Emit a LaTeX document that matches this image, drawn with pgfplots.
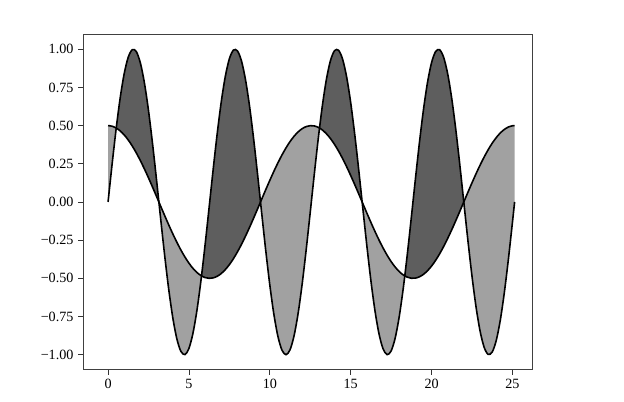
\documentclass[border=0pt]{standalone}
\usepackage{fontspec}
\setmainfont{Liberation Serif}
\usepackage{pgfplots}
\usepackage{pgfplotstable}
\pgfplotsset{compat=1.18}
\usepgfplotslibrary{fillbetween}
\definecolor{darkfill}{gray}{0.37}
\definecolor{lightfill}{gray}{0.63}
\pgfplotstableread{
x s c
0 0 0.5
0.25 0.2474 0.4961
0.5 0.4794 0.4845
0.75 0.6816 0.4653
1 0.8415 0.4388
1.25 0.9490 0.4055
1.5 0.9975 0.3658
1.75 0.9840 0.3205
2 0.9093 0.2702
2.25 0.7781 0.2156
2.5 0.5985 0.1577
2.75 0.3817 0.0973
3 0.1411 0.0354
3.25 -0.1082 -0.0271
3.5 -0.3508 -0.0891
3.75 -0.5716 -0.1498
4 -0.7568 -0.2081
4.25 -0.8950 -0.2631
4.5 -0.9775 -0.3141
4.75 -0.9993 -0.3601
5 -0.9589 -0.4006
5.25 -0.8589 -0.4349
5.5 -0.7055 -0.4622
5.75 -0.5083 -0.4823
6 -0.2794 -0.4950
6.25 -0.0332 -0.4999
6.5 0.2151 -0.4971
6.75 0.4500 -0.4864
7 0.6570 -0.4682
7.25 0.8231 -0.4427
7.5 0.9380 -0.4103
7.75 0.9946 -0.3714
8 0.9894 -0.3268
8.25 0.9228 -0.2771
8.5 0.7985 -0.2230
8.75 0.6247 -0.1655
9 0.4121 -0.1054
9.25 0.1739 -0.0436
9.5 -0.0752 0.0188
9.75 -0.3195 0.0809
10 -0.5440 0.1418
10.25 -0.7347 0.2005
10.5 -0.8797 0.2560
10.75 -0.9700 0.3076
11 -1.0000 0.3543
11.25 -0.9678 0.3955
11.5 -0.8755 0.4306
11.75 -0.7287 0.4589
12 -0.5366 0.4801
12.25 -0.3108 0.4938
12.5 -0.0663 0.4997
12.75 0.1826 0.4979
13 0.4202 0.4883
13.25 0.6317 0.4711
13.5 0.8038 0.4465
13.75 0.9259 0.4150
14 0.9906 0.3770
14.25 0.9936 0.3331
14.5 0.9349 0.2840
14.75 0.8180 0.2304
15 0.6503 0.1733
15.25 0.4422 0.1135
15.5 0.2065 0.0519
15.75 -0.0420 -0.0105
16 -0.2879 -0.0728
16.25 -0.5159 -0.1339
16.5 -0.7118 -0.1929
16.75 -0.8635 -0.2489
17 -0.9614 -0.3010
17.25 -0.9996 -0.3484
17.5 -0.9756 -0.3904
17.75 -0.8910 -0.4263
18 -0.7510 -0.4556
18.25 -0.5643 -0.4777
18.5 -0.3425 -0.4924
18.75 -0.0994 -0.4994
19 0.1498 -0.4986
19.25 0.3898 -0.4900
19.5 0.6055 -0.4738
19.75 0.7836 -0.4502
20 0.9129 -0.4195
20.25 0.9855 -0.3823
20.5 0.9968 -0.3392
20.75 0.9462 -0.2908
21 0.8367 -0.2378
21.25 0.6752 -0.1811
21.5 0.4717 -0.1216
21.75 0.2389 -0.0601
22 -0.0089 0.0022
22.25 -0.2559 0.0645
22.5 -0.4871 0.1258
22.75 -0.6881 0.1852
23 -0.8462 0.2416
23.25 -0.9517 0.2943
23.5 -0.9981 0.3424
23.75 -0.9824 0.3852
24 -0.9057 0.4219
24.25 -0.7726 0.4521
24.5 -0.5914 0.4752
24.75 -0.3735 0.4909
25 -0.1324 0.4989
25.1327 0 0.5
}\datatable
\begin{document}
\begin{tikzpicture}
\begin{axis}[
  scale only axis,
  width=337.3pt, height=252pt,
  xmin=-1.55, xmax=26.25,
  ymin=-1.1, ymax=1.1,
  xtick={0,5,10,15,20,25},
  ytick={-1,-0.75,-0.5,-0.25,0,0.25,0.5,0.75,1},
  yticklabels={−1.00,−0.75,−0.50,−0.25,0.00,0.25,0.50,0.75,1.00},
  /pgf/number format/assume math mode=true,
  tick label style={font=\fontsize{10.6}{12}\selectfont},
  tick align=outside,
  tick pos=left,
  major tick length=3.6pt,
  every tick/.style={black!80, line width=0.6pt},
  axis line style={black!75, line width=0.7pt},
  clip=true,
]
\addplot[name path=A, draw=none, smooth, forget plot] table[x=x, y=s] {\datatable};
\addplot[name path=B, draw=none, smooth, forget plot] table[x=x, y=c] {\datatable};
\addplot[lightfill] fill between[of=A and B, split,
  every even segment/.style={fill=lightfill},
  every odd segment/.style={fill=darkfill}];
\addplot[black, line width=1.2pt, smooth] table[x=x, y=s] {\datatable};
\addplot[black, line width=1.2pt, smooth] table[x=x, y=c] {\datatable};
\end{axis}
\pgfresetboundingbox
\path ([xshift=-62.25pt,yshift=-24pt]current axis.south west) rectangle ([xshift=68.5pt,yshift=25.5pt]current axis.north east);
\end{tikzpicture}
\end{document}
